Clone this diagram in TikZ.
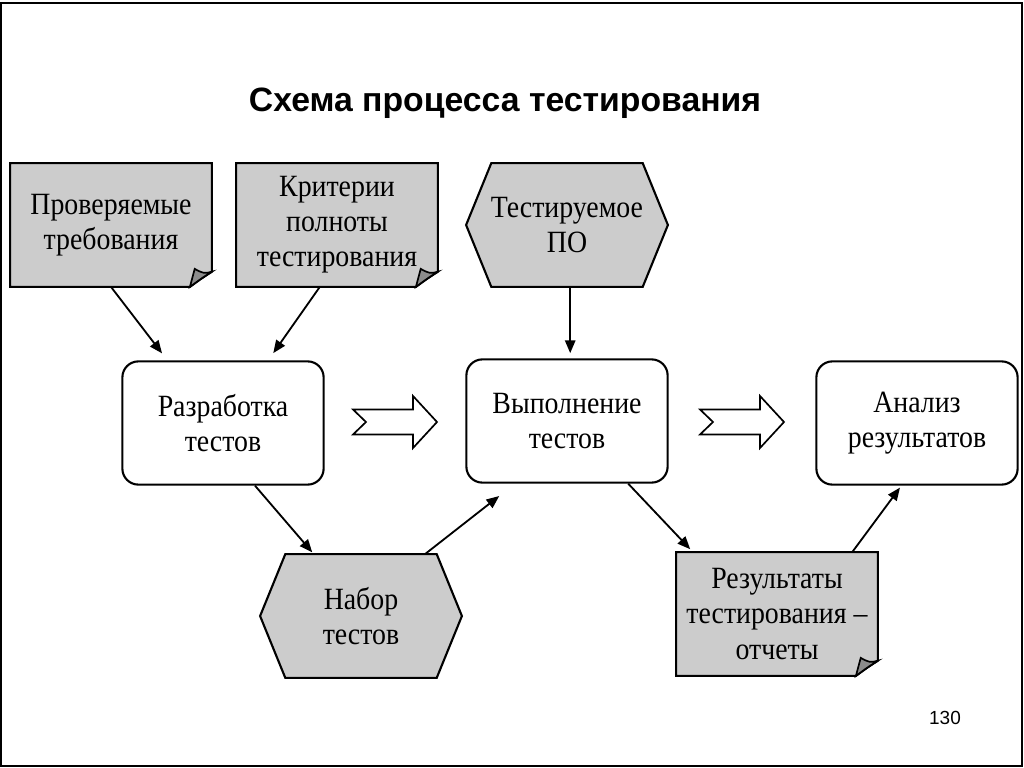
\documentclass[tikz,border=0pt]{standalone}
\usepackage{fontspec}
\setmainfont{Liberation Serif}[FakeStretch=0.9]
\newfontfamily\headfont{Liberation Sans}
\usetikzlibrary{arrows.meta, calc, backgrounds}
\definecolor{docgray}{RGB}{204,204,204}
\definecolor{folddark}{RGB}{140,140,140}

\tikzset{
    box/.style={minimum width=5.03cm, minimum height=3.08cm, align=center, font=\fontsize{22}{25}\selectfont},
    stepbox/.style={box, draw, line width=1.5pt, rounded corners=0.4cm, fill=white},
    conn/.style={-{Triangle[length=0.32cm, width=0.26cm]}, line width=1.3pt},
    fatarrow/.pic={
        \draw[line width=1.2pt, fill=white] (-42,-12.5) -- (-29,0) -- (-42,12.5) -- (18,12.5) -- (18,26)
            -- (42,0) -- (18,-26) -- (18,-12.5) -- cycle;
    }
}

\begin{document}
\begin{tikzpicture}[x=0.025cm, y=-0.025cm]
    \useasboundingbox (0,0) rectangle (1024,768);
    \draw[line width=1pt] (1,3) rectangle (1022,766);

    \node[font=\headfont\bfseries\fontsize{24}{28}\selectfont] (title) at (505,103) {Схема процесса тестирования};

    % documents and data
    \node[box] (req) at (111,225) {Проверяемые\\требования};
    \node[box] (crit) at (337,225) {Критерии\\полноты\\тестирования};
    \node[box] (sut) at (567,225) {Тестируемое\\ПО};
    \node[box] (set) at (361,616) {Набор\\тестов};
    \node[box] (res) at (777,614) {Результаты\\тестирования --\\отчеты};

    % process steps
    \node[stepbox] (dev) at (223,423) {Разработка\\тестов};
    \node[stepbox] (exec) at (567,421) {Выполнение\\тестов};
    \node[stepbox] (ana) at (917,423) {Анализ\\результатов};

    \begin{scope}[on background layer]
        \foreach \d in {req, crit, res} {
            \draw[line width=1.5pt, fill=docgray] (\d.north west) -- (\d.north east) -- ([yshift=0.38cm]\d.south east)
                .. controls ([xshift=-0.25cm, yshift=0.22cm]\d.south east) .. ([xshift=-0.55cm]\d.south east)
                -- (\d.south west) -- cycle;
            \draw[line width=1.2pt, fill=folddark] ([yshift=0.38cm]\d.south east)
                .. controls ([xshift=-0.2cm, yshift=0.33cm]\d.south east) .. ([xshift=-0.43cm, yshift=0.45cm]\d.south east)
                -- ([xshift=-0.55cm]\d.south east)
                .. controls ([xshift=-0.25cm, yshift=0.22cm]\d.south east) .. cycle;
        }
        \foreach \h in {sut, set} {
            \draw[line width=1.5pt, fill=docgray] (\h.west) -- ([xshift=0.63cm]\h.north west) -- ([xshift=-0.63cm]\h.north east)
                -- (\h.east) -- ([xshift=-0.63cm]\h.south east) -- ([xshift=0.63cm]\h.south west) -- cycle;
        }
    \end{scope}

    \pic at ($(dev.east)!0.5!(exec.west)$) {fatarrow};
    \pic at ($(exec.east)!0.5!(ana.west)$) {fatarrow};

    \draw[conn, shorten >=0.22cm] (req.south) -- ([xshift=-1.39cm]dev.north);
    \draw[conn, shorten >=0.22cm] ([xshift=-0.43cm]crit.south) -- ([xshift=1.13cm]dev.north);
    \draw[conn, shorten >=0.13cm] ([xshift=0.08cm]sut.south) -- ([xshift=0.08cm]exec.north);
    \draw[conn, shorten >=0.06cm] ([xshift=0.8cm]dev.south) -- ([xshift=-1.18cm]set.north);
    \draw[conn, shorten >=0.5cm] ([xshift=1.6cm]set.north) -- ([xshift=-1.3cm]exec.south);
    \draw[conn, shorten >=0.1cm] ([xshift=1.53cm]exec.south) -- ([xshift=-2.1cm]res.north);
    \draw[conn, shorten >=0.06cm] ([xshift=1.88cm]res.north) -- ([xshift=-0.39cm]ana.south);

    \node[font=\headfont\fontsize{13.5}{16}\selectfont] (page) at (945,718) {130};
\end{tikzpicture}
\end{document}
